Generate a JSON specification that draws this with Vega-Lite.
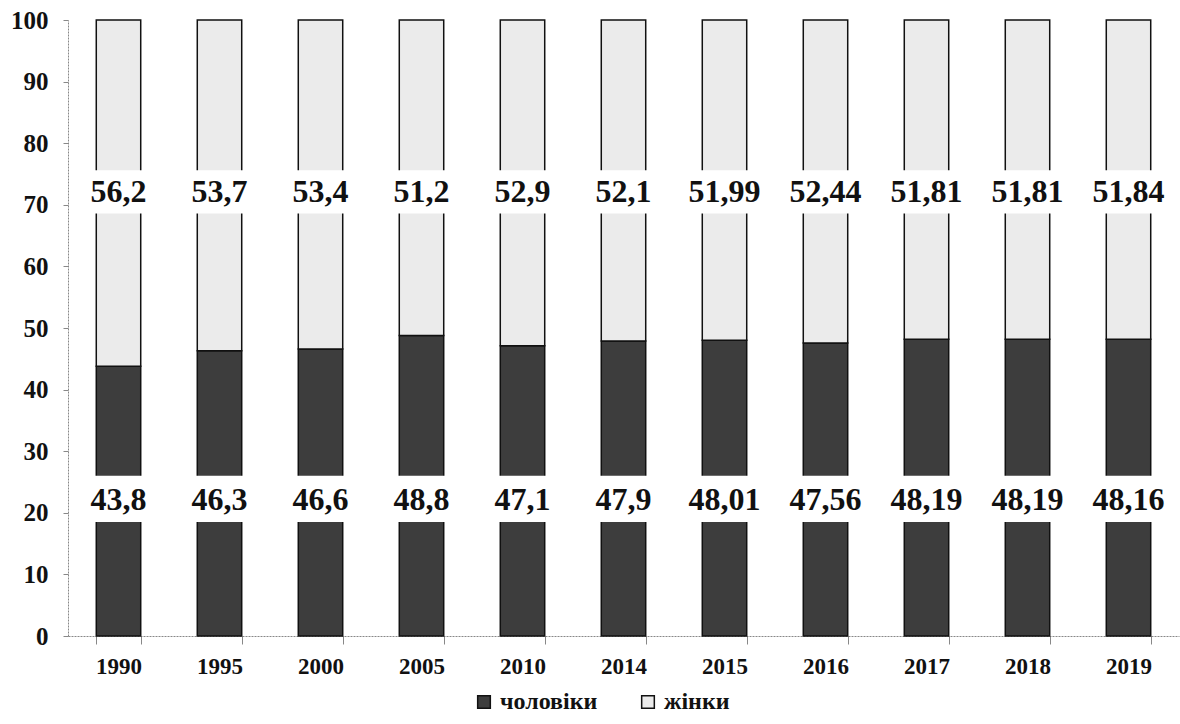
{
  "$schema": "https://vega.github.io/schema/vega-lite/v6.json",
  "autosize": "none",
  "width": 1111,
  "height": 616,
  "padding": {"left": 68, "top": 20, "right": 1, "bottom": 88},
  "background": "white",
  "config": {
    "view": {"stroke": null},
    "font": "Liberation Serif",
    "locale": {"number": {"decimal": ",", "thousands": " ", "grouping": [3], "currency": ["", ""]}}
  },
  "data": {
    "values": [
      {"year": "1990", "чоловіки": 43.8, "жінки": 56.2},
      {"year": "1995", "чоловіки": 46.3, "жінки": 53.7},
      {"year": "2000", "чоловіки": 46.6, "жінки": 53.4},
      {"year": "2005", "чоловіки": 48.8, "жінки": 51.2},
      {"year": "2010", "чоловіки": 47.1, "жінки": 52.9},
      {"year": "2014", "чоловіки": 47.9, "жінки": 52.1},
      {"year": "2015", "чоловіки": 48.01, "жінки": 51.99},
      {"year": "2016", "чоловіки": 47.56, "жінки": 52.44},
      {"year": "2017", "чоловіки": 48.19, "жінки": 51.81},
      {"year": "2018", "чоловіки": 48.19, "жінки": 51.81},
      {"year": "2019", "чоловіки": 48.16, "жінки": 51.84}
    ]
  },
  "encoding": {
    "x": {
      "field": "year",
      "type": "ordinal",
      "title": null,
      "scale": {"paddingInner": 0.56, "paddingOuter": 0.28},
      "axis": {
        "labelAngle": 0,
        "labelFont": "Liberation Serif",
        "labelFontWeight": "bold",
        "labelFontSize": 23,
        "labelColor": "#111",
        "labelPadding": 11,
        "tickBand": "extent",
        "tickSize": 8,
        "tickColor": "#888",
        "domainColor": "#888",
        "domainDash": [2, 1],
        "grid": false
      }
    }
  },
  "layer": [
    {
      "transform": [{"fold": ["чоловіки", "жінки"], "as": ["group", "value"]}],
      "mark": {"type": "bar", "stroke": "#111", "strokeWidth": 1.5},
      "encoding": {
        "y": {
          "field": "value",
          "type": "quantitative",
          "stack": "zero",
          "title": null,
          "scale": {"domain": [0, 100], "nice": false},
          "axis": {
            "values": [0, 10, 20, 30, 40, 50, 60, 70, 80, 90, 100],
            "labelFont": "Liberation Serif",
            "labelFontWeight": "bold",
            "labelFontSize": 25,
            "labelColor": "#111",
            "labelPadding": 15,
            "tickSize": 5,
            "tickColor": "#888",
            "domainColor": "#888",
            "domainDash": [2, 1],
            "grid": false
          }
        },
        "color": {
          "field": "group",
          "type": "nominal",
          "scale": {"domain": ["чоловіки", "жінки"], "range": ["#3d3d3d", "#ebebeb"]},
          "legend": {
            "title": null,
            "orient": "none",
            "legendX": 404,
            "legendY": 670,
            "direction": "horizontal",
            "symbolType": "square",
            "symbolSize": 160,
            "symbolStrokeColor": "#111",
            "symbolStrokeWidth": 1.5,
            "labelFont": "Liberation Serif",
            "labelFontWeight": "bold",
            "labelFontSize": 24,
            "labelColor": "#111",
            "labelOffset": 4,
            "columnPadding": 38
          }
        },
        "order": {"field": "group", "sort": "descending"}
      }
    },
    {
      "mark": {"type": "bar", "color": "white", "width": {"band": 1.12}},
      "encoding": {"y": {"datum": 18.5}, "y2": {"datum": 26}}
    },
    {
      "mark": {"type": "bar", "color": "white", "width": {"band": 1.12}},
      "encoding": {"y": {"datum": 68.6}, "y2": {"datum": 75.6}}
    },
    {
      "mark": {"type": "text", "font": "Liberation Serif", "fontWeight": "bold", "fontSize": 32, "color": "#111", "baseline": "middle"},
      "encoding": {"y": {"datum": 22}, "text": {"field": "чоловіки", "type": "quantitative", "format": "~g"}}
    },
    {
      "mark": {"type": "text", "font": "Liberation Serif", "fontWeight": "bold", "fontSize": 32, "color": "#111", "baseline": "middle"},
      "encoding": {"y": {"datum": 72}, "text": {"field": "жінки", "type": "quantitative", "format": "~g"}}
    }
  ]
}
